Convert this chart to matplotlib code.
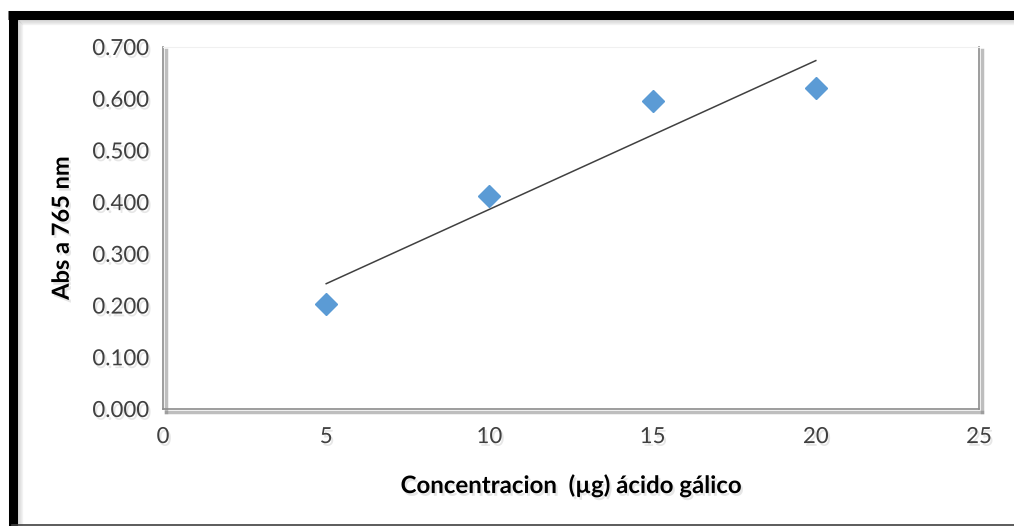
import numpy as np
import matplotlib.pyplot as plt
import matplotlib.patheffects as pe
from matplotlib.lines import Line2D

# data
conc = [5, 10, 15, 20]
absorb = [0.203, 0.412, 0.596, 0.621]
xticks = [0, 5, 10, 15, 20, 25]
yticks = [0.0, 0.1, 0.2, 0.3, 0.4, 0.5, 0.6, 0.7]

plt.rcParams['font.family'] = ['Lato', 'DejaVu Sans']

shadow = [pe.SimplePatchShadow(offset=(1.5, -2), shadow_rgbFace='#8f8f8f', alpha=0.22), pe.Normal()]

fig = plt.figure(figsize=(10.14, 5.26), dpi=100)
ax = fig.add_axes([163/1014, 1-409/526, (979-163)/1014, (409-47)/526])

# linear trend line
m, b = np.polyfit(conc, absorb, 1)
xs = np.array([conc[0], conc[-1]])
ax.plot(xs, m*xs + b, color='#404040', lw=1.1)
ax.plot(conc, absorb, 'D', color='#5b9bd5', ms=11.5, mec='#5b9bd5')

ax.set_xlim(0, 25)
ax.set_ylim(0, 0.7)
ax.set_xticks(xticks)
ax.set_yticks(yticks)
ax.set_yticklabels(['%.3f' % v for v in yticks])
ax.tick_params(length=0, labelsize=16, labelcolor='#404040', pad=10)
ax.tick_params(axis='x', pad=13)
for lab in ax.get_xticklabels() + ax.get_yticklabels():
    lab.set_path_effects(shadow)

for s in ['left', 'bottom', 'right']:
    ax.spines[s].set_color('#8c8c8c')
    ax.spines[s].set_linewidth(1.2)
    ax.spines[s].set_path_effects([pe.SimpleLineShadow(offset=(2, -2), shadow_color='#7f7f7f', alpha=0.5, linewidth=2.5), pe.Normal()])
ax.spines['top'].set_color('#f0f0f0')

ax.set_xlabel('Concentracion  (\u00b5g) \u00e1cido g\u00e1lico', fontsize=17.3, fontweight='bold', labelpad=19)
ax.set_ylabel('Abs a 765 nm', fontsize=17, fontweight='bold', labelpad=14)
ax.xaxis.label.set_path_effects(shadow)
ax.yaxis.label.set_path_effects(shadow)

# frame around the picture
for i in range(6):
    fig.add_artist(Line2D([17/1014 + i/1014, 1], [1-19/526 - i/526]*2, color='#999999', alpha=0.35 - i*0.05, lw=1))
    fig.add_artist(Line2D([17/1014 + i/1014]*2, [0, 1-19/526 - i/526], color='#999999', alpha=0.35 - i*0.05, lw=1))
fig.add_artist(Line2D([8/1014, 1], [1-15/526]*2, color='black', lw=6.5, solid_capstyle='butt'))
fig.add_artist(Line2D([12.5/1014]*2, [0, 1-11/526], color='black', lw=6.5, solid_capstyle='butt'))
fig.add_artist(Line2D([12/1014, 1], [1.5/526]*2, color='#404040', lw=1.2))

fig.savefig('out.png', dpi=100)
